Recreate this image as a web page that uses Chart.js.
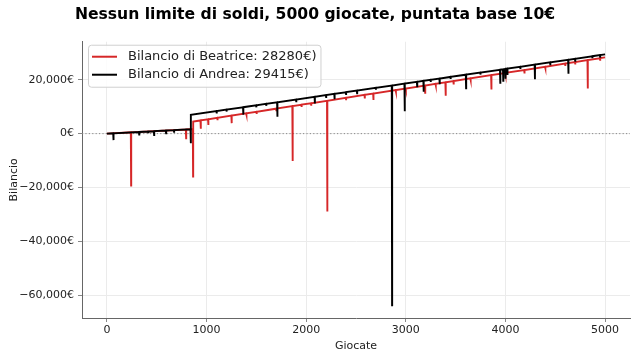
<!DOCTYPE html>
<html>
<head>
<meta charset="utf-8">
<script src="https://cdn.jsdelivr.net/npm/chart.js@4.4.0/dist/chart.umd.min.js"></script>
<style>
  html, body { margin: 0; padding: 0; background: #fff; }
  #wrap { width: 638px; height: 360px; }
</style>
</head>
<body>
<div id="wrap"><canvas id="myChart" width="638" height="360"></canvas></div>
<script>
// data
const xTicks = [0, 1000, 2000, 3000, 4000, 5000];
const yTicks = [-60000, -40000, -20000, 0, 20000];

const beatriceGames = [0,
    240, 243, 244, 792, 795, 796, 862, 865, 866, 939, 942, 943,
    1015, 1018, 1019, 1107, 1110, 1111, 1249, 1252, 1253, 1397, 1400, 1401,
    1500, 1503, 1504, 1697, 1700, 1701, 1861, 1864, 1865, 1951, 1954, 1955,
    2047, 2050, 2051, 2209, 2212, 2213, 2397, 2400, 2401, 2585, 2588, 2589,
    2672, 2675, 2676, 2897, 2900, 2901, 2997, 3000, 3001, 3191, 3194, 3195,
    3297, 3300, 3301, 3397, 3400, 3401, 3477, 3480, 3481, 3647, 3650, 3651,
    3856, 3859, 3860, 3997, 4000, 4001, 4188, 4191, 4192, 4397, 4400, 4401,
    4597, 4600, 4601, 4697, 4700, 4701, 4823, 4826, 4827, 4947, 4950, 4951,
    5000];
const beatriceBalance = [0,
    470, -19260, 480, 1540, -1740, 1550, 1680, -15930, 4450, 4880, 1850, 4900,
    5320, 3220, 5340, 5850, 5000, 5870, 6660, 3890, 6690, 7520, 7000, 7540,
    8110, 7300, 8130, 9250, 8700, 9270, 10190, -10110, 10220, 10710, 9900, 10740,
    11270, 10700, 11290, 12200, -28900, 12220, 13280, 12700, 13300, 14370, 13080, 14390,
    14870, 12480, 14890, 16170, 15600, 16190, 16740, 16200, 16760, 17860, 15190, 17880,
    18470, 17900, 18490, 19050, 14080, 19070, 19510, 18260, 19530, 20490, 19900, 20510,
    21700, 16410, 21710, 22510, 21900, 22520, 23610, 22330, 23630, 24810, 24300, 24830,
    25970, 25400, 25980, 26540, 26000, 26560, 27270, 16780, 27280, 27980, 27400, 28000,
    28280];

const andreaGames = [0,
    63, 66, 67, 321, 324, 325, 411, 414, 415, 471, 474, 475,
    591, 594, 595, 671, 674, 675, 839, 842, 843,
    1099, 1102, 1103, 1199, 1202, 1203, 1366, 1369, 1370, 1497, 1500, 1501,
    1597, 1600, 1601, 1708, 1711, 1712, 1897, 1900, 1901, 2084, 2087, 2088,
    2197, 2200, 2201, 2282, 2285, 2286, 2397, 2400, 2401, 2508, 2511, 2512,
    2697, 2700, 2701, 2859, 2862, 2863, 2986, 2989, 2990, 3111, 3114, 3115,
    3176, 3179, 3180, 3247, 3250, 3251, 3337, 3340, 3341, 3447, 3450, 3451,
    3602, 3605, 3606, 3747, 3750, 3751, 3945, 3948, 3949, 3975, 3978, 3979,
    3997, 4000, 4001, 4017, 4020, 4021, 4147, 4150, 4151, 4293, 4296, 4297,
    4447, 4450, 4451, 4629, 4632, 4633, 4697, 4700, 4701, 4870, 4873, 4874,
    4947, 4950, 4951, 5000];
const andreaBalance = [0,
    120, -2400, 130, 620, -370, 630, 800, 480, 810, 910, -480, 920,
    1150, 110, 1160, 1300, 700, 1310, 1630, -3600, 7000,
    8350, 7500, 8370, 8890, 8200, 8910, 9790, 7040, 9810, 10500, 9800, 10520,
    11040, 10300, 11060, 11630, 6300, 11650, 12660, 12000, 12680, 13670, 11220, 13690,
    14280, 13600, 14300, 14740, 12780, 14760, 15360, 14700, 15380, 15960, 14930, 15980,
    16980, 16300, 17000, 17850, -63700, 17870, 18540, 8330, 18560, 19210, 17600, 19230,
    19560, 15560, 19580, 19950, 19200, 19970, 20430, 18330, 20450, 21030, 20300, 21050,
    21860, 16850, 21880, 22650, 21900, 22670, 23710, 18890, 23730, 23880, 19630, 23900,
    24000, 20370, 24020, 24110, 21740, 24130, 24810, 24000, 24830, 25590, 20190, 25610,
    26430, 25700, 26450, 27410, 22220, 27430, 27780, 27000, 27800, 28710, 28000, 28730,
    29130, 28500, 29150, 29415];

const finalBeatrice = 28280;
const finalAndrea = 29415;

const font = "'DejaVu Sans', sans-serif";

function toPoints(xs, ys) {
    return xs.map((x, i) => ({ x: x, y: ys[i] }));
}

// 20,000€ style, with a real minus sign like matplotlib
function euro(v) {
    const s = Math.abs(v).toLocaleString('en-US') + '€';
    return v < 0 ? '\u2212' + s : s;
}

// dotted line at zero
const zeroLine = {
    id: 'zeroLine',
    beforeDatasetsDraw(chart) {
        const ctx = chart.ctx;
        const a = chart.chartArea;
        const y = chart.scales.y.getPixelForValue(0);
        ctx.save();
        ctx.strokeStyle = '#888';
        ctx.lineWidth = 1;
        ctx.setLineDash([1.2, 2.2]);
        ctx.beginPath();
        ctx.moveTo(a.left, y);
        ctx.lineTo(a.right, y);
        ctx.stroke();
        ctx.restore();
    }
};

// matplotlib style legend box in upper left
const boxLegend = {
    id: 'boxLegend',
    afterDatasetsDraw(chart) {
        const ctx = chart.ctx;
        const a = chart.chartArea;
        const items = chart.data.datasets;
        ctx.save();
        ctx.font = '13px ' + font;
        let w = 0;
        items.forEach(d => { w = Math.max(w, ctx.measureText(d.label).width); });
        const x0 = a.left + 6, y0 = a.top + 3;
        const bw = 40 + w + 4, bh = 42;
        ctx.fillStyle = 'rgba(255,255,255,0.85)';
        ctx.strokeStyle = '#d0d0d0';
        ctx.lineWidth = 1;
        ctx.beginPath();
        ctx.roundRect(x0 + 0.5, y0 + 0.5, bw, bh, 3);
        ctx.fill();
        ctx.stroke();
        items.forEach((d, i) => {
            const yy = y0 + 12 + i * 18;
            ctx.strokeStyle = d.borderColor;
            ctx.lineWidth = 2;
            ctx.beginPath();
            ctx.moveTo(x0 + 4, yy);
            ctx.lineTo(x0 + 29, yy);
            ctx.stroke();
            ctx.fillStyle = '#222';
            ctx.textBaseline = 'middle';
            ctx.fillText(d.label, x0 + 40, yy);
        });
        ctx.restore();
    }
};

var ctx = document.getElementById('myChart').getContext('2d');

var myChart = new Chart(ctx, {
    type: 'line',
    data: {
        datasets: [{
            label: 'Bilancio di Beatrice: ' + finalBeatrice + '€)',
            data: toPoints(beatriceGames, beatriceBalance),
            borderColor: '#d62728',
            borderWidth: 1.9,
            order: 1
        }, {
            label: 'Bilancio di Andrea: ' + finalAndrea + '€)',
            data: toPoints(andreaGames, andreaBalance),
            borderColor: '#000000',
            borderWidth: 1.9,
            order: 0
        }]
    },
    options: {
        responsive: false,
        animation: false,
        events: [],
        elements: {
            point: { radius: 0 },
            line: { tension: 0, borderJoinStyle: 'miter', borderCapStyle: 'butt' }
        },
        layout: { padding: { left: 0, right: 8, top: 0, bottom: 0 } },
        scales: {
            x: {
                type: 'linear',
                min: -250,
                max: 5250,
                afterBuildTicks: s => { s.ticks = xTicks.map(v => ({ value: v })); },
                afterFit: s => { s.height = 42; },
                ticks: {
                    font: { family: font, size: 11 },
                    color: '#222',
                    padding: 2,
                    maxRotation: 0,
                    callback: v => String(v)
                },
                grid: { color: '#ebebeb', tickColor: '#888', tickLength: 4 },
                border: { color: '#666', width: 1 },
                title: {
                    display: true,
                    text: 'Giocate',
                    font: { family: font, size: 11 },
                    color: '#222',
                    padding: { top: 0, bottom: 7 }
                }
            },
            y: {
                min: -68400,
                max: 34100,
                afterBuildTicks: s => { s.ticks = yTicks.map(v => ({ value: v })); },
                afterFit: s => { s.width = 82; },
                ticks: {
                    font: { family: font, size: 11 },
                    color: '#222',
                    padding: 4,
                    callback: v => euro(v)
                },
                grid: { color: '#ebebeb', tickColor: '#888', tickLength: 4 },
                border: { color: '#666', width: 1 },
                title: {
                    display: true,
                    text: 'Bilancio',
                    font: { family: font, size: 11 },
                    color: '#222',
                    padding: { top: 8, bottom: 0 }
                }
            }
        },
        plugins: {
            legend: { display: false },
            tooltip: { enabled: false },
            title: {
                display: true,
                text: 'Nessun limite di soldi, 5000 giocate, puntata base 10€',
                font: { family: font, size: 15.6, weight: 'bold' },
                color: '#000',
                padding: { top: 6, bottom: 17 }
            }
        }
    },
    plugins: [zeroLine, boxLegend]
});
</script>
</body>
</html>
